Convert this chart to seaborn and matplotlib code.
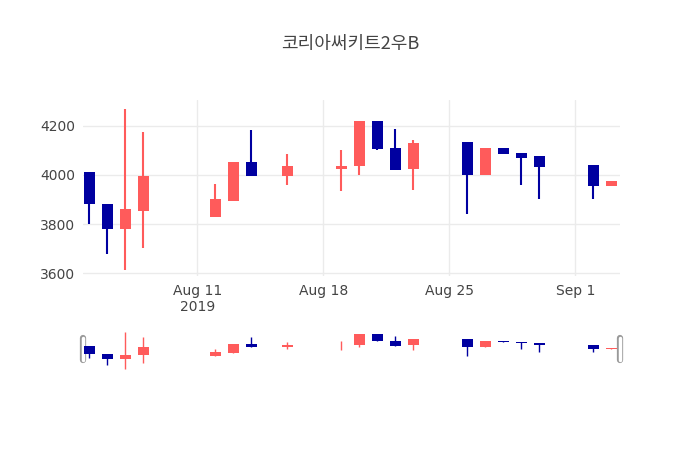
import matplotlib
matplotlib.use("Agg")
import matplotlib.pyplot as plt
import matplotlib.dates as mdates
import seaborn as sns
import pandas as pd

dates = ["2019-08-05","2019-08-06","2019-08-07","2019-08-08","2019-08-12","2019-08-13","2019-08-14",
         "2019-08-16","2019-08-19","2019-08-20","2019-08-21","2019-08-22","2019-08-23","2019-08-26",
         "2019-08-27","2019-08-28","2019-08-29","2019-08-30","2019-09-02","2019-09-03"]
opens  = [4010,3880,3780,3855,3830,3895,4050,3995,4025,4035,4220,4110,4025,4135,4000,4110,4090,4075,4040,3955]
closes = [3880,3780,3860,3995,3900,4050,3995,4035,4035,4220,4105,4020,4130,4000,4110,4085,4070,4030,3955,3975]
highs  = [4010,3880,4268,4172,3964,4050,4180,4084,4100,4220,4220,4184,4140,4135,4110,4110,4090,4075,4040,3975]
lows   = [3800,3680,3612,3704,3830,3895,3995,3960,3936,4000,4100,4020,3940,3840,4000,4085,3960,3900,3900,3955]

df = pd.DataFrame({"date": pd.to_datetime(dates), "open": opens, "close": closes, "high": highs, "low": lows})
df["x"] = mdates.date2num(df["date"])
up_c, dn_c = "#FF5B5B", "#0000A0"
df["color"] = [up_c if c >= o else dn_c for o, c in zip(df.open, df.close)]

sns.set_theme(style="white")
fig = plt.figure(figsize=(7, 4.5), dpi=100)
ax = fig.add_axes([0.119, 0.387, 0.767, 0.391])
sl = fig.add_axes([0.119, 0.178, 0.767, 0.089])

x0 = mdates.date2num(pd.Timestamp("2019-08-11")) - 6.33
x1 = mdates.date2num(pd.Timestamp("2019-08-11")) + 23.5

def draw(a, lw):
    for _, r in df.iterrows():
        a.vlines(r.x, r.low, r.high, color=r.color, lw=lw, zorder=2)
        lo, hi = min(r.open, r.close), max(r.open, r.close)
        a.bar(r.x, max(hi - lo, 4), bottom=lo, width=0.6, color=r.color, zorder=3, linewidth=0)

draw(ax, 1.5)
ax.set_xlim(x0, x1)
ax.set_ylim(3590, 4304)
ax.set_yticks([3600, 3800, 4000, 4200])
ax.set_xticks(mdates.date2num(pd.to_datetime(["2019-08-11", "2019-08-18", "2019-08-25", "2019-09-01"])))
ax.set_xticklabels(["Aug 11\n2019", "Aug 18", "Aug 25", "Sep 1"])
ax.grid(True, color="#ebebeb", lw=1)
for s in ax.spines.values():
    s.set_visible(False)
ax.tick_params(axis="both", length=0, labelsize=10, colors="#444444", pad=6)

draw(sl, 1.0)
sl.set_xlim(x0, x1)
sl.set_ylim(3590, 4300)
sl.set_xticks([]); sl.set_yticks([])
for s in sl.spines.values():
    s.set_visible(False)
for xe in (x0, x1):
    sl.plot([xe, xe], [3760, 4150], color="#999999", lw=4.5, solid_capstyle="round", clip_on=False)
    sl.plot([xe, xe], [3760, 4150], color="white", lw=2.5, clip_on=False)

fig.text(0.5, 0.902, "코리아써키트2우B", ha="center", va="center", fontsize=13,
         color="#444444", fontfamily="Noto Sans CJK KR")
fig.savefig("out.png")
